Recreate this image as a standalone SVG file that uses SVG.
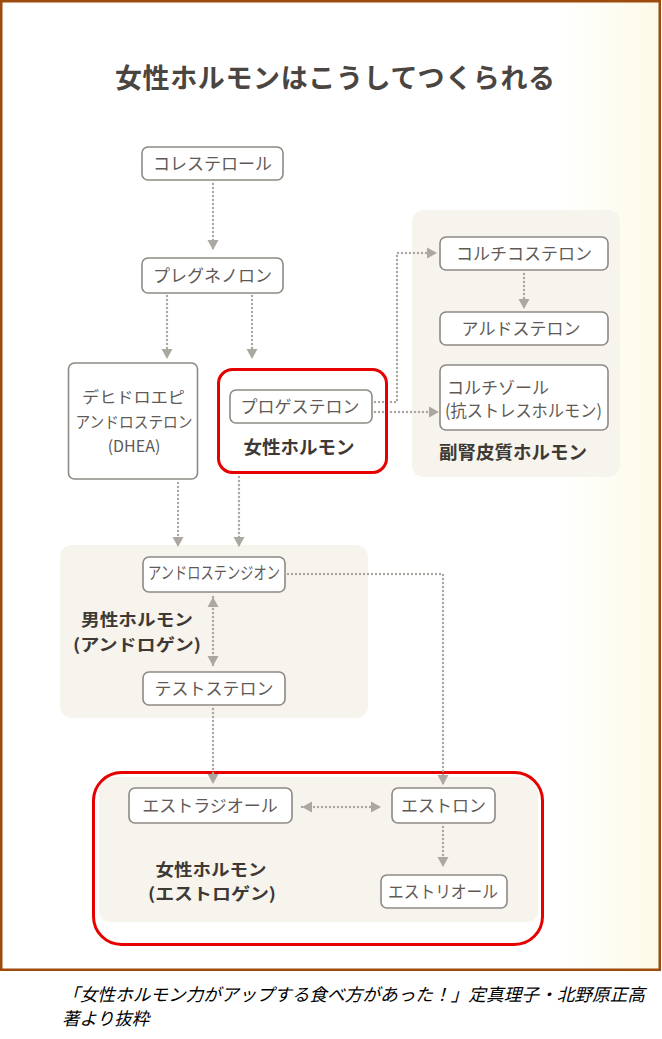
<svg xmlns="http://www.w3.org/2000/svg" width="662" height="1039" viewBox="0 0 662 1039">
<style>
text{font-family:"Noto Sans CJK JP","Noto Sans",sans-serif}
.t{font-size:17px;fill:#5f5a56;text-anchor:middle}
.d{font-size:16px}
.b{font-size:18.5px;font-weight:bold;fill:#3e3935;text-anchor:middle}
.b2{font-size:16.5px}
.box{fill:#ffffff;stroke:#8e8983;stroke-width:1.6}
.panel{fill:#f6f4ec}
.red{fill:none;stroke:#e60000;stroke-width:3}
.c{fill:none;stroke:#aba7a1;stroke-width:2.4;stroke-dasharray:0 4;stroke-linecap:round}
.cap{font-size:17.5px;font-style:italic;fill:#000}
</style>
<defs>
<linearGradient id="bg" x1="0" y1="0" x2="1" y2="0">
<stop offset="0.85" stop-color="#ffffff"/>
<stop offset="1" stop-color="#fcfae6"/>
</linearGradient>
<marker id="ah" markerUnits="userSpaceOnUse" markerWidth="12" markerHeight="12" refX="10" refY="6" orient="auto-start-reverse">
<path d="M0,0.5 L10,6 L0,11.5 Z" fill="#aba7a1"/>
</marker>
</defs>
<rect x="0" y="0" width="662" height="1039" fill="#ffffff"/>
<rect x="1.25" y="1.25" width="658.5" height="968.5" fill="url(#bg)" stroke="#9c4b0d" stroke-width="2.5"/>
<text x="335" y="88" font-size="27" font-weight="bold" fill="#4a4541" text-anchor="middle" textLength="440">女性ホルモンはこうしてつくられる</text>

<g id="panel-adrenal"><rect class="panel" x="412" y="210" width="208" height="267" rx="12"/>
<text class="b" x="513" y="459">副腎皮質ホルモン</text></g>
<g id="panel-androgen"><rect class="panel" x="60" y="545" width="308" height="173" rx="12"/>
<text class="b b2" x="137" y="626" textLength="112" lengthAdjust="spacingAndGlyphs">男性ホルモン</text><text class="b b2" x="137" y="650.5" textLength="128" lengthAdjust="spacingAndGlyphs">(アンドロゲン)</text></g>
<g id="panel-estrogen"><rect class="panel" x="99" y="777" width="439" height="145" rx="10"/>
<rect class="red" x="93.5" y="772.5" width="449" height="172" rx="28"/>
<text class="b b2" x="211" y="875.5" textLength="111" lengthAdjust="spacingAndGlyphs">女性ホルモン</text><text class="b b2" x="212" y="900" textLength="128" lengthAdjust="spacingAndGlyphs">(エストロゲン)</text></g>

<g id="connectors">
<path class="c" d="M213,184 V250" marker-end="url(#ah)"/>
<path class="c" d="M167,296 V359" marker-end="url(#ah)"/>
<path class="c" d="M252,296 V359" marker-end="url(#ah)"/>
<path class="c" d="M375,402 H397 V253 H437" marker-end="url(#ah)"/>
<path class="c" d="M375,412 H439" marker-end="url(#ah)"/>
<path class="c" d="M524,274 V309" marker-end="url(#ah)"/>
<path class="c" d="M178,483 V547" marker-end="url(#ah)"/>
<path class="c" d="M239,477 V547" marker-end="url(#ah)"/>
<path class="c" d="M213,597 V666" marker-start="url(#ah)" marker-end="url(#ah)"/>
<path class="c" d="M213,709 V784" marker-end="url(#ah)"/>
<path class="c" d="M288,574 H443 V785" marker-end="url(#ah)"/>
<path class="c" d="M302,807 H381" marker-start="url(#ah)" marker-end="url(#ah)"/>
<path class="c" d="M443,827 V867" marker-end="url(#ah)"/>
</g>

<g id="n-cholesterol"><rect class="box" x="142" y="147" width="141" height="33" rx="6"/><text class="t" x="212.5" y="170">コレステロール</text></g>
<g id="n-pregnenolone"><rect class="box" x="142" y="258" width="141" height="35" rx="6"/><text class="t" x="212.5" y="282">プレグネノロン</text></g>
<g id="n-dhea"><rect class="box" x="68.5" y="363" width="129" height="116" rx="6"/>
<text class="t d" x="133.5" y="403" textLength="103" lengthAdjust="spacingAndGlyphs">デヒドロエピ</text>
<text class="t d" x="134" y="428" textLength="117" lengthAdjust="spacingAndGlyphs">アンドロステロン</text>
<text class="t d" x="134" y="452">(DHEA)</text></g>
<g id="n-progesterone"><rect class="red" x="218.5" y="369.5" width="168" height="103" rx="14"/>
<rect class="box" x="230" y="390" width="142" height="33" rx="6"/><text class="t" x="300" y="413">プロゲステロン</text>
<text class="b" x="299" y="454">女性ホルモン</text></g>
<g id="n-corticosterone"><rect class="box" x="440" y="237" width="168" height="33" rx="6"/><text class="t" x="524" y="260">コルチコステロン</text></g>
<g id="n-aldosterone"><rect class="box" x="440" y="312" width="168" height="33" rx="6"/><text class="t" x="521" y="335">アルドステロン</text></g>
<g id="n-cortisol"><rect class="box" x="440" y="365" width="168" height="65" rx="6"/>
<text class="t" x="447" y="394" style="text-anchor:start">コルチゾール</text>
<text class="t" x="445" y="417" style="text-anchor:start" textLength="157" lengthAdjust="spacingAndGlyphs">(抗ストレスホルモン)</text></g>
<g id="n-androstenedione"><rect class="box" x="143" y="557" width="142" height="35" rx="6"/><text class="t" x="214" y="579" font-size="13.5" textLength="132" lengthAdjust="spacingAndGlyphs">アンドロステンジオン</text></g>
<g id="n-testosterone"><rect class="box" x="143" y="672" width="142" height="33" rx="6"/><text class="t" x="214" y="695">テストステロン</text></g>
<g id="n-estradiol"><rect class="box" x="129" y="788" width="163" height="35" rx="6"/><text class="t" x="210" y="812">エストラジオール</text></g>
<g id="n-estrone"><rect class="box" x="392" y="788" width="103" height="35" rx="6"/><text class="t" x="443.5" y="812">エストロン</text></g>
<g id="n-estriol"><rect class="box" x="381" y="875" width="126" height="33" rx="6"/><text class="t" x="443" y="898" textLength="110" lengthAdjust="spacingAndGlyphs">エストリオール</text></g>

<text class="cap" x="62" y="1001" textLength="583" lengthAdjust="spacingAndGlyphs">「女性ホルモン力がアップする食べ方があった！」定真理子・北野原正高</text>
<text class="cap" x="62" y="1025">著より抜粋</text>
</svg>
